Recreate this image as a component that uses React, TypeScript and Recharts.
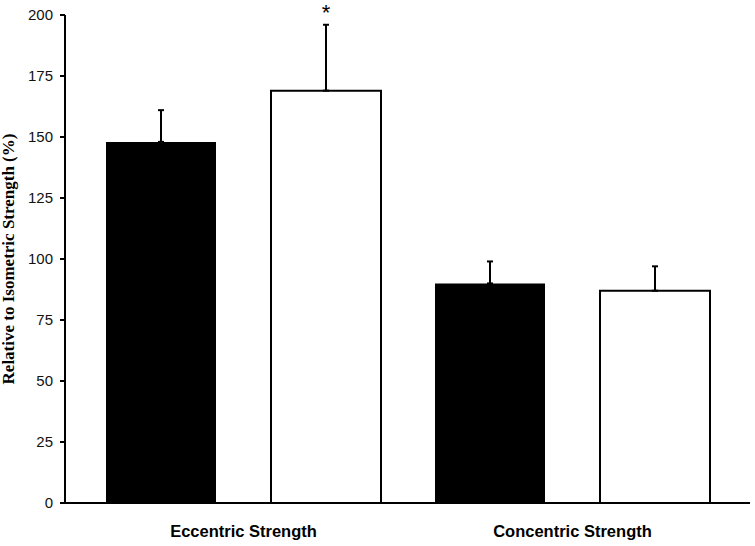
import { BarChart, Bar, XAxis, YAxis, ErrorBar, LabelList } from 'recharts';

const categories = ['Eccentric Strength', 'Concentric Strength'];
const darkValues = [148, 90];
const darkErrors = [13, 9];
const lightValues = [169, 87];
const lightErrors = [27, 10];
const lightMarks = ['*', ''];
const yTicks = [0, 25, 50, 75, 100, 125, 150, 175, 200];

const data = categories.map((name, i) => ({
  name,
  dark: darkValues[i],
  darkErr: [0, darkErrors[i]],
  light: lightValues[i],
  lightErr: [0, lightErrors[i]],
}));

// star sits above the top of the error bar, so work out its height from the bar's own scale
const StarLabel = (props: any) => {
  const { x, y, width, height, index } = props;
  const mark = lightMarks[index];
  if (!mark) return null;
  const pxPerUnit = height / lightValues[index];
  const errTop = y - lightErrors[index] * pxPerUnit;
  return (
    <text x={x + width / 2} y={errTop - 5} textAnchor="middle" fontSize={22}
      fontFamily="'Liberation Sans', Arial, sans-serif" fill="#000">
      {mark}
    </text>
  );
};

const YLabel = () => (
  <text x={14} y={259} transform="rotate(-90, 14, 259)" textAnchor="middle"
    fontSize={17} fontWeight="bold" fontFamily="'Liberation Serif', 'Times New Roman', serif" fill="#000">
    Relative to Isometric Strength (%)
  </text>
);

export default function App() {
  return (
    <div style={{ position: 'absolute', left: 0, top: 0, width: 755, height: 546, background: '#fff' }}>
      <BarChart width={755} height={546} data={data}
        margin={{ top: 15, right: 5, left: 0, bottom: 0 }}
        barSize={110} barGap={55}>
        <XAxis dataKey="name" height={43} padding={{ left: 14, right: 13 }}
          axisLine={{ stroke: '#000', strokeWidth: 2 }} tickLine={false}
          tickSize={0} tickMargin={22}
          tick={{ fill: '#000', fontSize: 16.5, fontWeight: 'bold', fontFamily: "'Liberation Sans', Arial, sans-serif" }} />
        <YAxis domain={[0, 200]} ticks={yTicks} width={65} interval={0}
          axisLine={{ stroke: '#000', strokeWidth: 2 }}
          tickLine={{ stroke: '#000', strokeWidth: 2 }} tickSize={5} tickMargin={7}
          tick={{ fill: '#111', fontSize: 15, fontFamily: "'Liberation Sans', Arial, sans-serif" }}
          label={<YLabel />} />
        <Bar dataKey="dark" fill="#000" isAnimationActive={false}>
          <ErrorBar dataKey="darkErr" width={3} strokeWidth={2} stroke="#000" isAnimationActive={false} />
        </Bar>
        <Bar dataKey="light" fill="#fff" stroke="#000" strokeWidth={2} isAnimationActive={false}>
          <ErrorBar dataKey="lightErr" width={3} strokeWidth={2} stroke="#000" isAnimationActive={false} />
          <LabelList dataKey="light" content={<StarLabel />} />
        </Bar>
      </BarChart>
    </div>
  );
}
